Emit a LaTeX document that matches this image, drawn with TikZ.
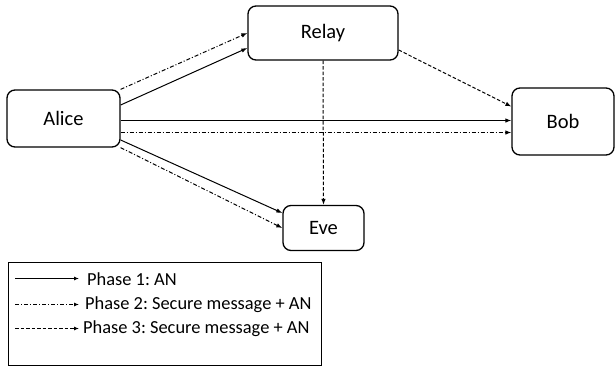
\documentclass[tikz,border=0pt]{standalone}
\usepackage{fontspec}
\setmainfont{Carlito}
\frenchspacing
\usetikzlibrary{arrows.meta}
\tikzset{
  box/.style={draw, rounded corners=8pt, line width=1.3pt, inner sep=0pt, font=\fontsize{20.5}{24}\selectfont},
  arr/.style={-{Latex[length=6pt,width=4.5pt]}, line width=1pt},
  p1/.style={arr},
  p2/.style={arr, dash pattern=on 4pt off 2pt on 1pt off 2pt},
  p3/.style={arr, dash pattern=on 3.5pt off 2pt},
  legarr/.style={-{Latex[length=5pt,width=4pt]}, line width=1pt},
  legtext/.style={anchor=west, inner sep=0pt, font=\fontsize{18.4}{21}\selectfont}
}
\begin{document}
\begin{tikzpicture}[x=1pt,y=-1pt]
\useasboundingbox (0,0) rectangle (615,367);
\node[box, minimum width=113pt, minimum height=57pt] (alice) at (63.5,118.5) {Alice};
\node[box, minimum width=150pt, minimum height=54pt] (relay) at (323,33) {Relay};
\node[box, minimum width=102pt, minimum height=67pt] (bob) at (563,121.5) {Bob};
\node[box, minimum width=81pt, minimum height=45pt] (eve) at (323.5,228) {Eve};

% Alice -> Relay
\draw[p2] (alice.north east) -- (relay.west);
\draw[p1] ([yshift=13.5pt]alice.east) -- ([yshift=-15pt]relay.west);
% Alice -> Bob
\draw[p1] ([yshift=-2pt]alice.east) coordinate (ab1) -- (ab1 -| bob.west);
\draw[p2] ([yshift=-14pt]alice.east) coordinate (ab2) -- (ab2 -| bob.west);
% Alice -> Eve
\draw[p1] ([yshift=-21.5pt]alice.east) -- ([yshift=15pt]eve.west);
\draw[p2] (alice.south east) -- (eve.west);
% Relay -> Eve, Relay -> Bob
\draw[p3] (relay.south) -- (eve.north);
\draw[p3] ([yshift=-17pt]relay.east) -- ([yshift=15pt]bob.west);

% Legend
\node[draw, line width=0.8pt, minimum width=313pt, minimum height=103pt, inner sep=0pt] (legend) at (164.5,313.5) {};
\coordinate (l1a) at (15,278.5); \coordinate (l1b) at (79,278.5);
\coordinate (l2a) at (15,304.5); \coordinate (l2b) at (79,304.5);
\coordinate (l3a) at (15,328.5); \coordinate (l3b) at (79,328.5);
\draw[legarr] (l1a) -- (l1b);
\draw[legarr, dash pattern=on 4pt off 2pt on 1pt off 2pt] (l2a) -- (l2b);
\draw[legarr, dash pattern=on 3.5pt off 2pt] (l3a) -- (l3b);
\node[legtext] (t1) at (87,279) {Phase 1: AN};
\node[legtext] (t2) at (85,305) {Phase 2: Secure message + AN};
\node[legtext] (t3) at (83,329) {Phase 3: Secure message + AN};
\end{tikzpicture}
\end{document}
